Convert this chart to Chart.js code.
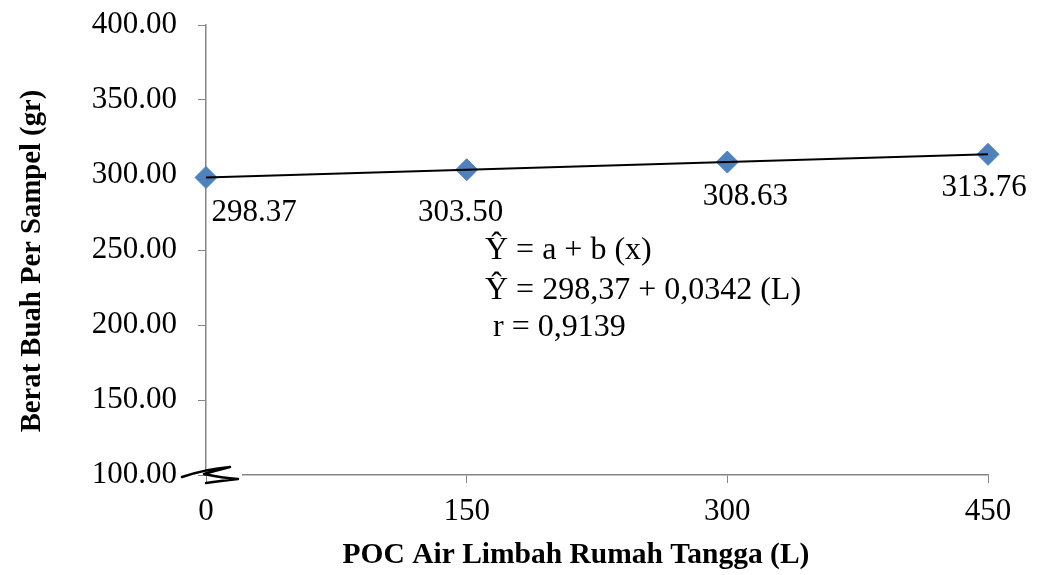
<!DOCTYPE html>
<html>
<head>
<meta charset="utf-8">
<script src="https://cdn.jsdelivr.net/npm/chart.js@4.4.0/dist/chart.umd.min.js"></script>
<style>
  html, body { margin: 0; padding: 0; background: #fff; }
  .wrap { width: 1041px; height: 575px; position: relative; }
</style>
</head>
<body>
<div class="wrap"><canvas class="js-chart"></canvas></div>
<script>
(function () {

  // data
  const doses = [0, 150, 300, 450];
  const weights = [298.37, 303.50, 308.63, 313.76];
  const pointLabels = ['298.37', '303.50', '308.63', '313.76'];
  const trendX = [0, 450];
  const trendY = [298.37, 313.76];
  const equationLines = ['Ŷ = a + b (x)', 'Ŷ = 298,37 + 0,0342 (L)', ' r = 0,9139'];
  const xTitle = 'POC Air Limbah Rumah Tangga (L)';
  const yTitle = 'Berat Buah Per Sampel (gr)';

  const serif = "'Liberation Serif', 'Times New Roman', serif";
  const axisGrey = '#868686';

  // label offsets from each marker, hand placed like the original
  const labelOffsets = [[48, 35], [-6, 43], [18, 35], [-4, 33]];

  const labelsPlugin = {
    id: 'pointLabels',
    afterDatasetsDraw(chart) {
      const ctx = chart.ctx;
      const meta = chart.getDatasetMeta(1);
      ctx.save();
      ctx.font = '31px ' + serif;
      ctx.fillStyle = '#000';
      ctx.textAlign = 'center';
      ctx.textBaseline = 'middle';
      meta.data.forEach((pt, i) => {
        ctx.fillText(pointLabels[i], pt.x + labelOffsets[i][0], pt.y + labelOffsets[i][1]);
      });

      // regression equation
      ctx.textAlign = 'left';
      ctx.font = '32px ' + serif;
      ctx.fillText(equationLines[0], 485, 251);
      ctx.fillText(equationLines[1], 485, 291);
      ctx.fillText(equationLines[2], 485, 328);

      // axis titles (both sit a little off the plot centre in the original)
      ctx.textAlign = 'center';
      ctx.font = 'bold 29.5px ' + serif;
      ctx.fillText(xTitle, 576, 555);
      ctx.font = 'bold 28.7px ' + serif;
      ctx.translate(33, 261);
      ctx.rotate(-Math.PI / 2);
      ctx.fillText(yTitle, 0, 0);
      ctx.restore();
    },
    afterDraw(chart) {
      // axis break squiggle at the origin
      const ctx = chart.ctx;
      const x0 = chart.scales.x.getPixelForValue(0);
      const y0 = chart.scales.y.getPixelForValue(100);
      ctx.save();
      ctx.strokeStyle = '#fff';
      ctx.lineWidth = 3;
      ctx.beginPath();
      ctx.moveTo(x0 + 1, y0);
      ctx.lineTo(x0 + 36, y0);
      ctx.stroke();
      ctx.strokeStyle = '#000';
      ctx.lineWidth = 2.5;
      ctx.lineJoin = 'round';
      ctx.lineCap = 'round';
      ctx.beginPath();
      ctx.moveTo(x0 - 24, y0 + 2);
      ctx.quadraticCurveTo(x0, y0 - 6, x0 + 24, y0 - 8);
      ctx.quadraticCurveTo(x0 + 8, y0 - 4, x0 - 2, y0 - 1);
      ctx.quadraticCurveTo(x0 + 16, y0 + 3, x0 + 32, y0 + 4);
      ctx.quadraticCurveTo(x0 + 14, y0 + 6, x0, y0 + 8);
      ctx.stroke();
      ctx.restore();
    }
  };

  const data = {
    datasets: [
      {
        type: 'line',
        data: trendX.map((x, i) => ({ x: x, y: trendY[i] })),
        borderColor: '#000',
        borderWidth: 2,
        pointRadius: 0,
        fill: false,
        clip: false,
        order: 0
      },
      {
        type: 'scatter',
        data: doses.map((x, i) => ({ x: x, y: weights[i] })),
        backgroundColor: '#4F81BD',
        borderColor: '#4F81BD',
        borderWidth: 1,
        pointStyle: 'rectRot',
        pointRadius: 11,
        clip: false,
        order: 1
      }
    ]
  };

  const config = {
    type: 'scatter',
    data: data,
    plugins: [labelsPlugin],
    options: {
      responsive: true,
      maintainAspectRatio: false,
      animation: false,
      plugins: {
        legend: { display: false },
        tooltip: { enabled: false }
      },
      layout: {
        autoPadding: false,
        padding: { left: 0, right: 53, top: 25, bottom: 0 }
      },
      scales: {
        x: {
          type: 'linear',
          min: 0,
          max: 450,
          afterFit: (s) => {
            s.height = 100;
            s.paddingLeft = 0;
            s.paddingRight = 0;
          },
          ticks: {
            stepSize: 150,
            padding: 10,
            color: '#000',
            font: { family: serif, size: 31 }
          },
          grid: {
            drawOnChartArea: false,
            color: axisGrey,
            tickLength: 8
          },
          border: { color: axisGrey, width: 1.5 }
        },
        y: {
          min: 100,
          max: 400,
          afterFit: (s) => {
            s.width = 206;
            s.paddingTop = 0;
            s.paddingBottom = 0;
          },
          ticks: {
            stepSize: 50,
            padding: 21,
            color: '#000',
            font: { family: serif, size: 31 },
            callback: (v) => v.toFixed(2)
          },
          grid: {
            drawOnChartArea: false,
            color: axisGrey,
            tickLength: 8
          },
          border: { color: axisGrey, width: 1.5 }
        }
      }
    }
  };

  new Chart(document.querySelector('.js-chart'), config);

})();
</script>
</body>
</html>
